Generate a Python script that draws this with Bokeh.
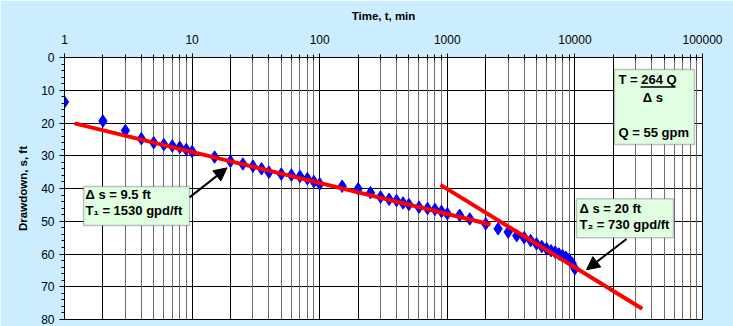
from bokeh.plotting import figure
from bokeh.models import (Range1d, FixedTicker, SingleIntervalTicker, Grid, BoxAnnotation,
                          Label, Arrow, NormalHead, BasicTickFormatter)
from bokeh.embed import file_html
from bokeh.resources import INLINE

# ---- data ----
time_min = [1, 2, 3, 4, 5, 6, 7, 8, 9, 10,
            15, 20, 25, 30, 35, 40, 50, 60, 70, 80, 90, 100,
            150, 200, 250, 300, 350, 400, 450, 500, 600, 700, 800, 900, 1000,
            1250, 1500, 2000, 2500, 3000, 3500, 4000, 4500, 5000, 5500, 6000,
            6500, 7000, 7500, 8000, 8500, 9000, 9500, 10000]
drawdown_ft = [13.6, 19.4, 22.3, 24.8, 26.0, 26.6, 27.0, 27.4, 28.1, 28.7,
               30.4, 31.7, 32.5, 33.2, 34.0, 35.0, 35.6, 35.9, 36.3, 37.0, 37.9, 38.6,
               39.3, 40.1, 41.3, 42.6, 43.3, 43.7, 44.4, 44.9, 45.7, 46.1, 46.4, 47.0, 47.7,
               48.2, 49.3, 50.8, 52.3, 53.3, 54.4, 55.0, 55.9, 56.9, 57.7, 58.4,
               59.0, 59.4, 60.0, 60.5, 61.0, 61.7, 62.8, 64.5]

fit1_t = [1.2, 2180]
fit1_s = [20.1, 51.0]
fit2_t = [885, 33700]
fit2_s = [38.9, 76.7]

x_ticks = [1, 10, 100, 1000, 10000, 100000]
y_ticks = [0, 10, 20, 30, 40, 50, 60, 70, 80]

FONT = "Liberation Sans"
BG = "#CCECFF"

p = figure(width=733, height=326, x_axis_type="log",
           x_range=Range1d(1, 100000), y_range=Range1d(80, 0),
           x_axis_location="above", output_backend="svg", toolbar_location=None,
           min_border_left=64, min_border_right=31, min_border_top=57, min_border_bottom=7,
           background_fill_color="white", border_fill_color=BG)
p.outline_line_color = "black"
p.outline_line_width = 1

# axes
minor_x = [k * 10 ** n for n in range(5) for k in range(2, 10)]
p.xaxis.ticker = FixedTicker(ticks=x_ticks, minor_ticks=minor_x)
p.xaxis.formatter = BasicTickFormatter(use_scientific=False)
p.xaxis.axis_label = "Time, t, min"
p.yaxis.ticker = FixedTicker(ticks=y_ticks, minor_ticks=[v for v in range(0, 81, 2) if v % 10])
p.yaxis.axis_label = "Drawdown, s, ft"
for ax in (p.xaxis[0], p.yaxis[0]):
    ax.axis_line_color = "black"
    ax.major_tick_line_color = "black"
    ax.minor_tick_line_color = "black"
    ax.major_label_text_font = FONT
    ax.major_label_text_font_size = "12px"
    ax.major_label_text_color = "black"
    ax.axis_label_text_font = FONT
    ax.axis_label_text_font_size = "11.5px"
    ax.axis_label_text_font_style = "bold"
    ax.axis_label_text_color = "black"
p.xaxis.major_tick_out = 4
p.xaxis.major_tick_in = 3
p.xaxis.minor_tick_out = 3
p.xaxis.minor_tick_in = 3
p.xaxis.major_label_standoff = 10
p.xaxis.axis_label_standoff = 10
p.yaxis.major_tick_out = 5
p.yaxis.major_tick_in = 0
p.yaxis.minor_tick_out = 3
p.yaxis.minor_tick_in = 0
p.yaxis.major_label_standoff = 5
p.yaxis.axis_label_standoff = 9

# grids
dark_x = [k * 10 ** n for n in range(6) for k in (1, 2) if k * 10 ** n <= 100000]
grey_x = [k * 10 ** n for n in range(5) for k in range(3, 10)]
p.xgrid.ticker = FixedTicker(ticks=dark_x)
p.xgrid.grid_line_color = "black"
p.xgrid.grid_line_width = 1
p.add_layout(Grid(dimension=0, ticker=FixedTicker(ticks=grey_x),
                  grid_line_color="#6e6e6e", grid_line_width=1))
p.ygrid.ticker = SingleIntervalTicker(interval=10)
p.ygrid.grid_line_color = "black"
p.ygrid.grid_line_width = 1

# data
p.scatter(time_min, drawdown_ft, marker="diamond", size=12.5,
          fill_color="#0000FF", line_color="#0000FF")
p.line(fit1_t, fit1_s, line_color="#FF0000", line_width=4)
p.line(fit2_t, fit2_s, line_color="#FF0000", line_width=4)

# annotation boxes
box_kw = dict(fill_color="#E0FFE0", fill_alpha=1, line_color="#3a3a3a", line_width=1.5)
p.add_layout(BoxAnnotation(left=1.41, right=9.55, top=39.4, bottom=51.3, **box_kw))
p.add_layout(BoxAnnotation(left=10290, right=59300, top=43.1, bottom=55.0, **box_kw))
p.add_layout(BoxAnnotation(left=20400, right=86500, top=3.66, bottom=26.6, **box_kw))

def lab(x, y, t, align="left"):
    p.add_layout(Label(x=x, y=y, text=t, text_font=FONT, text_font_size="13px",
                       text_font_style="bold", text_color="black",
                       text_align=align, text_baseline="middle"))

lab(1.46, 41.8, "\u0394 s = 9.5 ft")
lab(1.46, 46.7, "T\u2081 = 1530 gpd/ft")
lab(10860, 46.1, "\u0394 s = 20 ft")
lab(10860, 51.0, "T\u2082 = 730 gpd/ft")
lab(21970, 6.7, "T = 264 Q")
lab(40900, 12.3, "\u0394 s", align="center")
lab(21970, 22.8, "Q = 55 gpm")
underline = p.segment(x0=[32700], y0=[9.0], x1=[61400], y1=[9.0],
                      line_color="black", line_width=1.5)
underline.level = "overlay"

p.add_layout(Arrow(end=NormalHead(size=13, fill_color="black", line_color="black"),
                   x_start=9.55, y_start=42.7, x_end=18.8, y_end=33.7,
                   line_width=2, line_color="black"))
p.add_layout(Arrow(end=NormalHead(size=13, fill_color="black", line_color="black"),
                   x_start=25400, y_start=55.4, x_end=12330, y_end=64.8,
                   line_width=2, line_color="black"))

open("out.html", "w").write(file_html(p, INLINE))
